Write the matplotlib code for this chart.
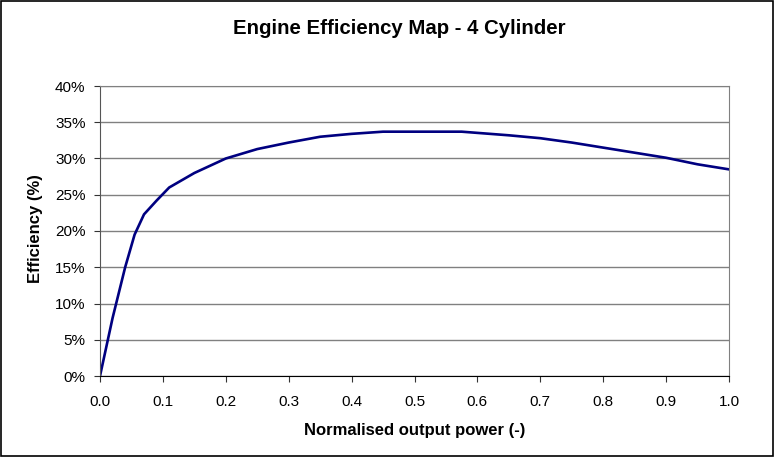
import matplotlib
matplotlib.use("Agg")
import matplotlib.pyplot as plt
from matplotlib.patches import Rectangle
from matplotlib.ticker import FuncFormatter

plt.rcParams['font.family'] = ['Liberation Sans', 'DejaVu Sans']

power = [0, 0.02, 0.04, 0.055, 0.07, 0.09, 0.11, 0.15, 0.2, 0.25, 0.3, 0.35,
         0.4, 0.45, 0.5, 0.575, 0.65, 0.7, 0.75, 0.8, 0.85, 0.9, 0.95, 1.0]
efficiency = [0, 8, 15, 19.5, 22.3, 24.2, 26, 28, 30, 31.3, 32.2, 33,
              33.4, 33.7, 33.7, 33.7, 33.2, 32.8, 32.2, 31.5, 30.8, 30.1, 29.2, 28.5]

W, H = 775, 457
fig = plt.figure(figsize=(W / 100, H / 100), dpi=100)
ax = fig.add_axes([100 / W, 1 - 376 / H, 629 / W, 290 / H])

ax.plot(power, [e / 100 for e in efficiency], color='#000080', lw=1.9)

ax.set_xlim(0, 1.0)
ax.set_ylim(0, 0.40)
ax.set_xticks([i / 10 for i in range(11)])
ax.set_yticks([i * 0.05 for i in range(9)])
ax.xaxis.set_major_formatter(FuncFormatter(lambda v, p: f"{v:.1f}"))
ax.yaxis.set_major_formatter(FuncFormatter(lambda v, p: f"{round(v*100):d}%"))
ax.tick_params(axis='both', labelsize=11, length=4.2, color='#333333', width=0.8)
ax.tick_params(axis='y', pad=6.2)
ax.tick_params(axis='x', pad=9.5)
ax.grid(axis='y', color='#808080', lw=1.0)
ax.set_axisbelow(True)
for s in ['top', 'right']:
    ax.spines[s].set_color('#808080')
ax.spines['left'].set_color('#555555')
ax.spines['bottom'].set_color('black')

fig.text(414.5 / W, 1 - 423 / H, 'Normalised output power (-)', ha='center', va='top',
         fontsize=12, fontweight='bold')
fig.text(35.5 / W, 1 - 229 / H, 'Efficiency (%)', ha='center', va='center',
         rotation=90, fontsize=12, fontweight='bold')
fig.text(399.5 / W, 1 - 34.5 / H, 'Engine Efficiency Map - 4 Cylinder', ha='center',
         va='baseline', fontsize=14.7, fontweight='bold')

fig.patches.append(Rectangle((0.001, 0.002), 0.997, 0.996, transform=fig.transFigure,
                             fill=False, edgecolor='black', lw=1.2))

fig.savefig('out.png', dpi=100)
